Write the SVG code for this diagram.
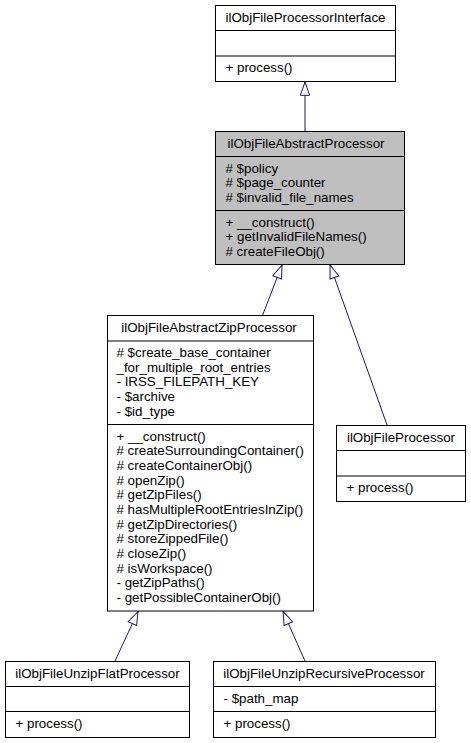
<svg xmlns="http://www.w3.org/2000/svg" width="471" height="743" viewBox="0 0 471 743">
<style>
  .box { fill: #ffffff; stroke: #000000; stroke-width: 1; }
  .hl { fill: #bfbfbf; }
  .sep { stroke: #000000; stroke-width: 1; }
  text { font-family: "Liberation Sans", Arial, Helvetica, sans-serif; font-size: 13.33px; fill: #000000; }
  .t { text-anchor: middle; }
  .edge { fill: none; stroke: #191970; stroke-width: 1; }
</style>
<defs>
  <marker id="inh" viewBox="0 0 16 12" refX="14.3" refY="6" markerWidth="16" markerHeight="12" markerUnits="userSpaceOnUse" orient="auto" overflow="visible">
    <path d="M1,1.33 L14.3,6 L1,10.67 Z" fill="#ffffff" stroke="#191970" stroke-width="1"/>
  </marker>
</defs>
<rect width="471" height="743" fill="#ffffff"/>

<g id="connectors">
  <path class="edge" d="M305,131 L305,82" marker-end="url(#inh)"/>
  <path class="edge" d="M262.5,315.5 L282,265" marker-end="url(#inh)"/>
  <path class="edge" d="M387,425 L330,265" marker-end="url(#inh)"/>
  <path class="edge" d="M115,661 L138,611.5" marker-end="url(#inh)"/>
  <path class="edge" d="M305,661 L283,611.5" marker-end="url(#inh)"/>
</g>

<g id="ilObjFileProcessorInterface">
  <rect class="box" x="215.5" y="5.5" width="180" height="76"/>
  <line class="sep" x1="215.5" y1="30.5" x2="395.5" y2="30.5"/>
  <line class="sep" x1="215.5" y1="56" x2="395.5" y2="56"/>
  <text class="t" x="305.5" y="21.5">ilObjFileProcessorInterface</text>
  <text x="225.5" y="72">+ process()</text>
</g>

<g id="ilObjFileAbstractProcessor">
  <rect class="box hl" x="215.5" y="131.5" width="189" height="133"/>
  <line class="sep" x1="215.5" y1="156.5" x2="404.5" y2="156.5"/>
  <line class="sep" x1="215.5" y1="210.5" x2="404.5" y2="210.5"/>
  <text class="t" x="306" y="147.5">ilObjFileAbstractProcessor</text>
  <text x="225.5" y="172.5"># $policy</text>
  <text x="225.5" y="187.2"># $page_counter</text>
  <text x="225.5" y="201.8"># $invalid_file_names</text>
  <text x="225.5" y="226.5">+ __construct()</text>
  <text x="225.5" y="241.2">+ getInvalidFileNames()</text>
  <text x="225.5" y="255.8"># createFileObj()</text>
</g>

<g id="ilObjFileAbstractZipProcessor">
  <rect class="box" x="107.5" y="315.5" width="206" height="295.5"/>
  <line class="sep" x1="107.5" y1="341" x2="313.5" y2="341"/>
  <line class="sep" x1="107.5" y1="424.5" x2="313.5" y2="424.5"/>
  <text class="t" x="209" y="331.5">ilObjFileAbstractZipProcessor</text>
  <text x="116.5" y="357"># $create_base_container</text>
  <text x="116.5" y="371.7">_for_multiple_root_entries</text>
  <text x="116.5" y="386.3">- IRSS_FILEPATH_KEY</text>
  <text x="116.5" y="401">- $archive</text>
  <text x="116.5" y="415.7">- $id_type</text>
  <text x="116.5" y="440.5">+ __construct()</text>
  <text x="116.5" y="455.2"># createSurroundingContainer()</text>
  <text x="116.5" y="469.8"># createContainerObj()</text>
  <text x="116.5" y="484.5"># openZip()</text>
  <text x="116.5" y="499.2"># getZipFiles()</text>
  <text x="116.5" y="513.8"># hasMultipleRootEntriesInZip()</text>
  <text x="116.5" y="528.5"># getZipDirectories()</text>
  <text x="116.5" y="543.2"># storeZippedFile()</text>
  <text x="116.5" y="557.8"># closeZip()</text>
  <text x="116.5" y="572.5"># isWorkspace()</text>
  <text x="116.5" y="587.2">- getZipPaths()</text>
  <text x="116.5" y="601.8">- getPossibleContainerObj()</text>
</g>

<g id="ilObjFileProcessor">
  <rect class="box" x="336.5" y="425.5" width="129" height="76"/>
  <line class="sep" x1="336.5" y1="450.5" x2="465.5" y2="450.5"/>
  <line class="sep" x1="336.5" y1="476" x2="465.5" y2="476"/>
  <text class="t" x="401" y="441.5">ilObjFileProcessor</text>
  <text x="346.5" y="492">+ process()</text>
</g>

<g id="ilObjFileUnzipFlatProcessor">
  <rect class="box" x="5.5" y="661.5" width="184" height="76"/>
  <line class="sep" x1="5.5" y1="686.5" x2="189.5" y2="686.5"/>
  <line class="sep" x1="5.5" y1="711.5" x2="189.5" y2="711.5"/>
  <text class="t" x="97.5" y="677.5">ilObjFileUnzipFlatProcessor</text>
  <text x="15.5" y="727.5">+ process()</text>
</g>

<g id="ilObjFileUnzipRecursiveProcessor">
  <rect class="box" x="213.5" y="661.5" width="222" height="76"/>
  <line class="sep" x1="213.5" y1="686.5" x2="435.5" y2="686.5"/>
  <line class="sep" x1="213.5" y1="711.5" x2="435.5" y2="711.5"/>
  <text class="t" x="324" y="677.5">ilObjFileUnzipRecursiveProcessor</text>
  <text x="223.5" y="702.5">- $path_map</text>
  <text x="223.5" y="727.5">+ process()</text>
</g>
</svg>
